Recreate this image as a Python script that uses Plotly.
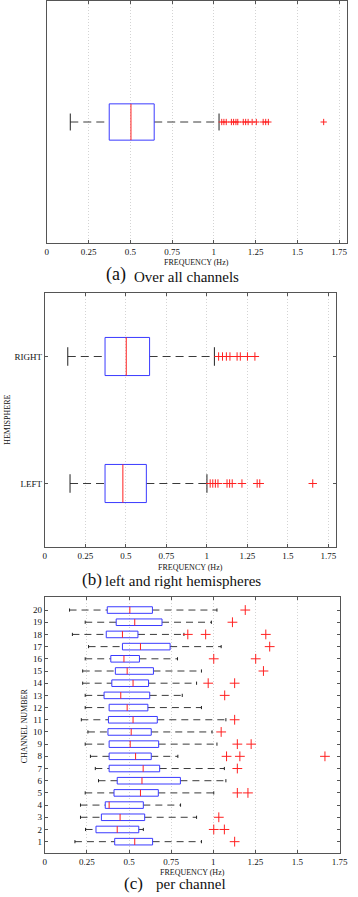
import plotly.graph_objects as go

# ---------------- DATA ----------------
x_tick_vals = [0, 0.25, 0.5, 0.75, 1, 1.25, 1.5, 1.75]
x_tick_text = ["0", "0.25", "0.5", "0.75", "1", "1.25", "1.5", "1.75"]

# (a) over all channels
all_stats = {"lo": 0.141, "q1": 0.374, "med": 0.504, "q3": 0.643, "hi": 1.031}
all_outliers = [1.047, 1.060, 1.074, 1.105, 1.118, 1.132, 1.143, 1.176, 1.190,
                1.205, 1.229, 1.254, 1.295, 1.310, 1.326, 1.657]

# (b) hemispheres
hemi_labels = ["LEFT", "RIGHT"]
hemi_lo = [0.156, 0.142]
hemi_q1 = [0.372, 0.372]
hemi_med = [0.482, 0.503]
hemi_q3 = [0.627, 0.647]
hemi_hi = [1.001, 1.047]
hemi_outliers = [
    [1.021, 1.037, 1.053, 1.069, 1.125, 1.141, 1.157, 1.217, 1.311, 1.327, 1.654],
    [1.073, 1.097, 1.121, 1.143, 1.187, 1.207, 1.251, 1.297],
]

# (c) per channel (channels 1..20)
channels = list(range(1, 21))
ch_lo = [0.179, 0.242, 0.212, 0.212, 0.240, 0.319, 0.300, 0.271, 0.240, 0.256,
         0.217, 0.240, 0.240, 0.225, 0.225, 0.240, 0.260, 0.164, 0.240, 0.147]
ch_q1 = [0.415, 0.304, 0.336, 0.359, 0.411, 0.430, 0.382, 0.382, 0.382, 0.375,
         0.378, 0.382, 0.352, 0.398, 0.419, 0.392, 0.461, 0.365, 0.424, 0.371]
ch_med = [0.534, 0.430, 0.447, 0.382, 0.568, 0.577, 0.584, 0.539, 0.507, 0.513,
          0.524, 0.489, 0.451, 0.524, 0.489, 0.470, 0.568, 0.461, 0.534, 0.505]
ch_q3 = [0.640, 0.558, 0.593, 0.585, 0.674, 0.805, 0.682, 0.632, 0.676, 0.632,
         0.668, 0.612, 0.623, 0.616, 0.645, 0.562, 0.744, 0.553, 0.696, 0.639]
ch_hi = [0.930, 0.585, 0.901, 0.806, 1.003, 1.075, 1.066, 0.790, 1.022, 0.993,
         1.075, 0.930, 0.816, 0.901, 0.930, 0.788, 1.047, 0.826, 0.989, 1.022]
ch_outliers = [
    [1.127],                 # 1
    [1.003, 1.066],          # 2
    [1.033],                 # 3
    [],                      # 4
    [1.143, 1.206],          # 5
    [],                      # 6
    [1.143],                 # 7
    [1.079, 1.158, 1.663],   # 8
    [1.143, 1.225],          # 9
    [1.047],                 # 10
    [1.127],                 # 11
    [],                      # 12
    [1.068],                 # 13
    [0.970, 1.127],          # 14
    [1.298],                 # 15
    [1.003, 1.252],          # 16
    [1.335],                 # 17
    [0.849, 0.955, 1.312],   # 18
    [1.114],                 # 19
    [1.190],                 # 20
]

# captions
cap_tags = ["(a)", "(b)", "(c)"]
cap_texts = ["Over all channels", "left and right hemispheres", "per channel"]

# ---------------- STYLE ----------------
FONT = "Liberation Serif, Times New Roman, serif"
BLUE = "#3a3aff"
RED = "#ff2020"
WHISK = "#3a3a3a"
W, H = 358, 897

fig = go.Figure()


def add_boxes(xa, ya, pos, lo, q1, med, q3, hi, outs, half, cap, msize, dash):
    bx, by, mx, my, wx, wy, cx, cy, ox, oy = [], [], [], [], [], [], [], [], [], []
    for p, l, a, m, b, h, o in zip(pos, lo, q1, med, q3, hi, outs):
        bx += [a, b, b, a, a, None]
        by += [p - half, p - half, p + half, p + half, p - half, None]
        mx += [m, m, None]
        my += [p - half, p + half, None]
        wx += [l, a, None, b, h, None]
        wy += [p, p, None, p, p, None]
        cx += [l, l, None, h, h, None]
        cy += [p - cap, p + cap, None, p - cap, p + cap, None]
        ox += list(o)
        oy += [p] * len(o)
    common = dict(xaxis=xa, yaxis=ya, showlegend=False, hoverinfo="skip")
    fig.add_trace(go.Scatter(x=wx, y=wy, mode="lines",
                             line=dict(color=WHISK, width=1, dash=dash), **common))
    fig.add_trace(go.Scatter(x=cx, y=cy, mode="lines",
                             line=dict(color="#222222", width=1), **common))
    fig.add_trace(go.Scatter(x=bx, y=by, mode="lines",
                             line=dict(color=BLUE, width=1), **common))
    fig.add_trace(go.Scatter(x=mx, y=my, mode="lines",
                             line=dict(color=RED, width=1), **common))
    fig.add_trace(go.Scatter(x=ox, y=oy, mode="markers",
                             marker=dict(symbol="cross-thin", size=msize,
                                         line=dict(color=RED, width=1)), **common))


# (a)
add_boxes("x", "y", [1], [all_stats["lo"]], [all_stats["q1"]], [all_stats["med"]],
          [all_stats["q3"]], [all_stats["hi"]], [all_outliers], 0.15, 0.07, 4.5, "8px,5px")
# (b)
add_boxes("x2", "y2", [0, 1], hemi_lo, hemi_q1, hemi_med, hemi_q3, hemi_hi,
          hemi_outliers, 0.15, 0.073, 6, "8px,5px")
# (c)
add_boxes("x3", "y3", channels, ch_lo, ch_q1, ch_med, ch_q3, ch_hi,
          ch_outliers, 0.27, 0.13, 7, "7px,5px")


def xax(dom, rng, anchor):
    return dict(domain=dom, range=rng, anchor=anchor, tickvals=x_tick_vals,
                ticktext=x_tick_text, ticks="inside", ticklen=3, tickcolor="#555",
                showline=True, linecolor="#555", linewidth=1, mirror="ticks",
                showgrid=True, gridcolor="#d4d4d4", griddash="1px,2px", gridwidth=1,
                zeroline=False, tickfont=dict(family=FONT, size=9, color="#111"),
                fixedrange=True)


def px(a, b):
    return [a / W, b / W]


def py(top, bottom):
    return [1 - bottom / H, 1 - top / H]


fig.update_layout(
    width=W, height=H, margin=dict(l=0, r=0, t=0, b=0),
    paper_bgcolor="white", plot_bgcolor="white",
    xaxis=xax(px(46, 355), [0, 1.797], "y"),
    yaxis=dict(domain=py(1, 243), range=[0, 2], anchor="x", showticklabels=False,
               ticks="", showline=True, linecolor="#555", mirror=True,
               showgrid=False, zeroline=False, fixedrange=True),
    xaxis2=xax(px(44, 344), [0, 1.80], "y2"),
    yaxis2=dict(domain=py(293, 547), range=[-0.5, 1.5], anchor="x2",
                tickvals=[0, 1], ticktext=hemi_labels, ticks="inside", ticklen=3,
                tickcolor="#555", showline=True, linecolor="#555", mirror="ticks",
                showgrid=False, zeroline=False,
                tickfont=dict(family=FONT, size=9, color="#111"), fixedrange=True),
    xaxis3=xax(px(44, 348), [0, 1.754], "y3"),
    yaxis3=dict(domain=py(597, 853), range=[0.07, 21.07], anchor="x3",
                tickvals=channels, ticktext=[str(c) for c in channels],
                ticks="inside", ticklen=3, tickcolor="#555", showline=True,
                linecolor="#555", mirror="ticks", showgrid=False, zeroline=False,
                tickfont=dict(family=FONT, size=9, color="#111"), fixedrange=True),
)


def ann(text, x, y, size, xanchor="center", angle=0):
    fig.add_annotation(text=text, x=x / W, y=1 - y / H, xref="paper", yref="paper",
                       showarrow=False, xanchor=xanchor, yanchor="middle",
                       textangle=angle, borderpad=0,
                       font=dict(family=FONT, size=size, color="#111"))


ann("FREQUENCY (Hz)", 200.5, 262, 8)
ann("FREQUENCY (Hz)", 194, 567, 8)
ann("FREQUENCY (Hz)", 196, 872, 8)
ann("HEMISPHERE", 5, 420, 8, angle=-90)
ann("CHANNEL NUMBER", 23, 726, 8, angle=-90)

# captions: tag + text as separate annotations
ann(cap_tags[0], 106, 275, 18, "left")
ann(cap_texts[0], 135, 277, 15, "left")
ann(cap_tags[1], 81, 579, 17, "left")
ann(cap_texts[1], 105, 581, 15, "left")
ann(cap_tags[2], 124, 883, 17, "left")
ann(cap_texts[2], 157, 884, 15, "left")

# remove the default 8px page margin so the figure sits at the page origin
fig.write_html("out.html", config={"displayModeBar": False},
               post_script="document.body.style.margin='0';document.body.style.padding='0';")
